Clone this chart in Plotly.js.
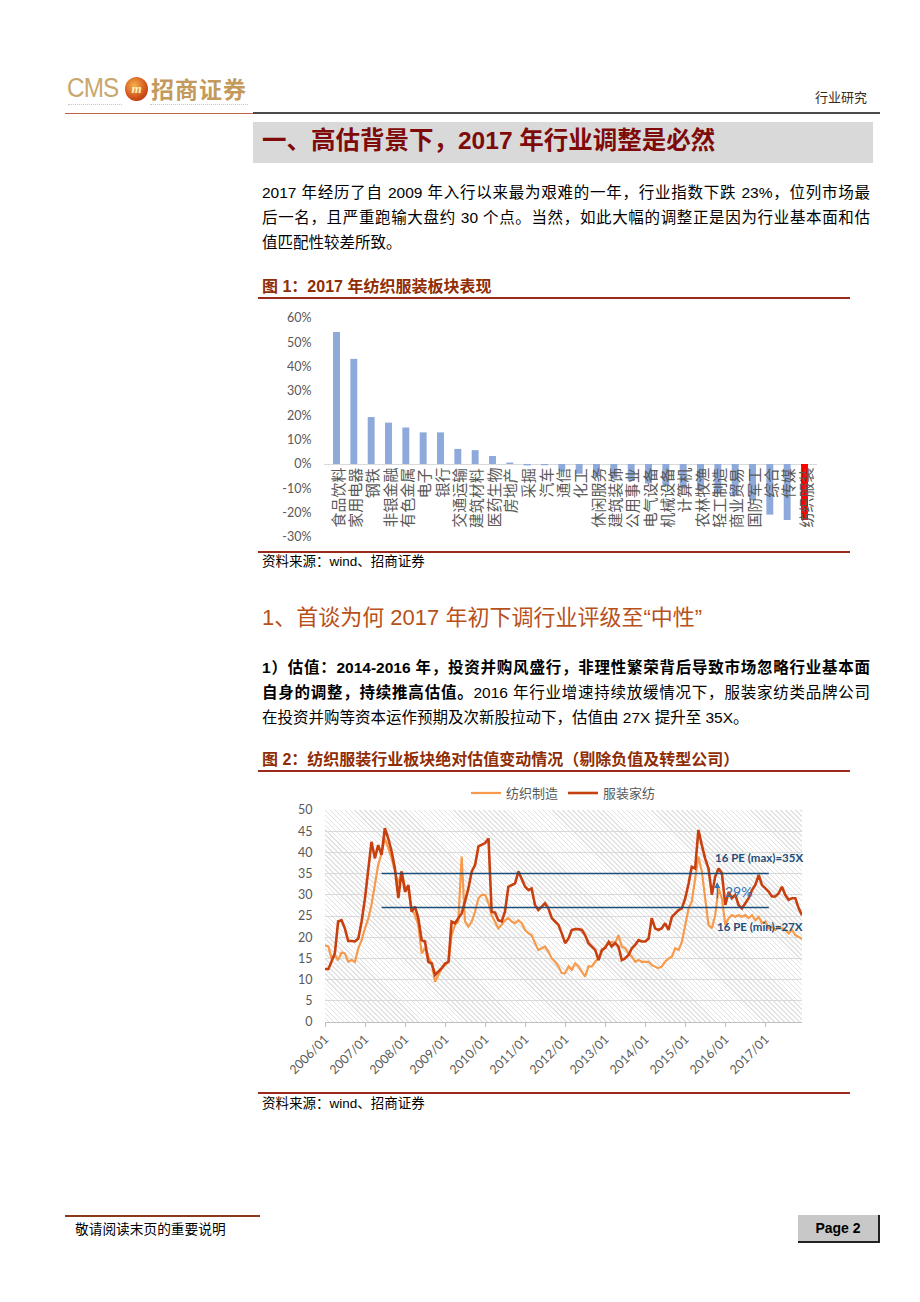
<!DOCTYPE html>
<html><head><meta charset="utf-8">
<script src="https://cdn.plot.ly/plotly-3.0.1.min.js"></script>
<style>
body{margin:0;background:#fff;width:920px;height:1302px;position:relative;overflow:hidden;font-family:"Liberation Sans","Noto Sans CJK SC",sans-serif;color:#000}
.abs{position:absolute;white-space:nowrap}
.jl{position:absolute;left:262px;width:608px;font-size:15.5px;line-height:20px;text-align:justify;text-align-last:justify;white-space:nowrap}
.ll{position:absolute;left:262px;font-size:15.5px;line-height:20px;white-space:nowrap}
.figt{position:absolute;left:262px;font-size:16px;font-weight:bold;color:#8f2d05;line-height:20px;white-space:nowrap}
.rule{position:absolute;left:258px;width:592px;height:2px;background:#9b2a1a}
.src{position:absolute;left:262px;font-size:13.5px;line-height:16px;white-space:nowrap}
</style></head><body>
<!-- header -->
<div class="abs" style="left:67px;top:73px;font-family:'Liberation Sans Narrow','Liberation Sans';font-size:27px;color:#c9a76c;letter-spacing:-1px;line-height:30px;transform:scaleX(0.9);transform-origin:left center">CMS</div>
<div class="abs" style="left:125px;top:77px;width:23px;height:24px;border-radius:50%;background:radial-gradient(circle at 40% 35%,#f6b04a,#d0501a 60%,#9a2a08);color:#fff3c0;font:italic bold 13px 'Liberation Serif';text-align:center;line-height:24px">m</div>
<div class="abs" style="left:151px;top:73px;font-family:'Noto Sans CJK SC';font-weight:bold;font-size:23px;color:#c39a5c;line-height:30px;letter-spacing:1px">招商证券</div>
<div class="abs" style="left:68px;top:104px;width:54px;border-top:1px dotted #d8c39a"></div>
<div class="abs" style="left:150px;top:104px;width:98px;border-top:1px dotted #d8c39a"></div>
<div class="abs" style="left:815px;top:89px;font-family:'Noto Sans CJK SC';font-size:13px;color:#3a2a1a;line-height:16px">行业研究</div>
<div class="abs" style="left:65px;top:113px;width:188px;height:1px;background:#c0614a"></div>
<div class="abs" style="left:253px;top:112px;width:627px;height:2px;background:#4a4a4a"></div>

<!-- section header -->
<div class="abs" style="left:253px;top:122px;width:620px;height:41px;background:#d9d9d9"></div>
<div class="abs" style="left:262px;top:126px;font-size:24.5px;font-weight:bold;color:#7e0a0a;line-height:30px">一、高估背景下，2017 年行业调整是必然</div>

<div class="jl" style="top:183px">2017 年经历了自 2009 年入行以来最为艰难的一年，行业指数下跌 23%，位列市场最</div>
<div class="jl" style="top:208px">后一名，且严重跑输大盘约 30 个点。当然，如此大幅的调整正是因为行业基本面和估</div>
<div class="ll" style="top:233px">值匹配性较差所致。</div>

<div class="figt" style="top:277px">图 1：2017 年纺织服装板块表现</div>
<div class="rule" style="top:297px"></div>
<div id="c1" class="abs" style="left:250px;top:300px;width:600px;height:250px"></div>
<div class="rule" style="top:551px;height:1.5px"></div>
<div class="src" style="top:554px">资料来源：wind、招商证券</div>

<div class="abs" style="left:262px;top:604px;font-size:22px;color:#b8501a;line-height:28px">1、首谈为何 2017 年初下调行业评级至“中性”</div>

<div class="jl" style="top:658px;font-weight:bold">1）估值：2014-2016 年，投资并购风盛行，非理性繁荣背后导致市场忽略行业基本面</div>
<div class="jl" style="top:683px"><b>自身的调整，持续推高估值。</b>2016 年行业增速持续放缓情况下，服装家纺类品牌公司</div>
<div class="ll" style="top:708px">在投资并购等资本运作预期及次新股拉动下，估值由 27X 提升至 35X。</div>

<div class="figt" style="top:750px">图 2：纺织服装行业板块绝对估值变动情况（剔除负值及转型公司）</div>
<div class="rule" style="top:770px"></div>
<div class="abs" style="left:325px;top:810px;width:477px;height:212px;background:repeating-linear-gradient(45deg,#ffffff 0px,#ffffff 2.4px,#e2e2e2 2.4px,#e2e2e2 3.5px)"></div>
<div id="c2" class="abs" style="left:250px;top:775px;width:600px;height:315px"></div>
<div class="rule" style="top:1092px;height:1.5px"></div>
<div class="src" style="top:1096px">资料来源：wind、招商证券</div>

<!-- footer -->
<div class="abs" style="left:65px;top:1215px;width:195px;height:1.5px;background:#8b3a1a"></div>
<div class="abs" style="left:75px;top:1220px;font-family:'Noto Sans CJK SC';font-size:13.7px;line-height:16px">敬请阅读末页的重要说明</div>
<div class="abs" style="left:798px;top:1215px;width:80px;height:26px;background:#c8c8c8;border-right:2px solid #222;border-bottom:2px solid #222;font:bold 14px 'Liberation Sans';text-align:center;line-height:26px">Page 2</div>

<script>
// ---------- Figure 1 data ----------
const sectors = ['食品饮料','家用电器','钢铁','非银金融','有色金属','电子','银行','交通运输','建筑材料','医药生物','房地产','采掘','汽车','通信','化工','休闲服务','建筑装饰','公用事业','电气设备','机械设备','计算机','农林牧渔','轻工制造','商业贸易','国防军工','综合','传媒','纺织服装'];
const sectorReturns = [54.2,43.2,19.3,17.0,15.0,13.0,13.0,6.2,5.7,3.3,0.6,-0.6,-0.5,-3.1,-4.0,-5.0,-6.0,-7.0,-8.0,-9.0,-10.0,-11.0,-12.0,-13.0,-15.0,-20.8,-23.0,-23.0];
const highlightSector = '纺织服装';
const yTicks1 = [-30,-20,-10,0,10,20,30,40,50,60];
const yTickText1 = yTicks1.map(v => v + '%');

// ---------- Figure 2 data ----------
const startMonth = [2006, 1];
const nMonths = 144;
const textileMfg = [
18,17.8,15,15.8,14.6,16.4,16.2,14.2,14.6,14.2,17.4,19.3,
22.1,24.5,27.6,32.3,37,39.8,43.3,41,38.6,35.5,32.7,35.5,
31.9,31.1,26.8,25.2,22.9,16.2,17.4,15.4,13.8,9.5,11.1,12.7,
13.4,14.2,20.5,22.9,23.7,39,23.7,22.5,23.7,26,29.2,30,
30,28,25.2,23.7,22.1,22.9,24,24.5,23.7,23.3,24,23.3,
21.7,20.9,20.5,18.6,17,17.4,17.8,16.6,15,14.2,13.1,11.5,
11.5,13.1,12.3,13.8,13.1,11.9,10.7,13.1,13.1,14.2,15,16.6,
17.8,18.6,18.9,18.6,20.5,17.8,17.4,16.2,15.4,14.2,14.6,14.2,
14.2,14.2,13.4,13.1,12.7,13.1,14.2,15,15.4,17.4,17,18.9,
22.9,26.8,28.4,33.9,39,35.5,29.2,22.9,22.1,25.2,31.5,29.2,
22.9,24.5,25.2,24.8,25.2,24.8,25.2,24.5,25.2,24,24.8,23.3,
23.7,22.1,22.5,21.7,22.5,22.1,21.7,20.9,21.7,20.5,20.1,19.6];
const apparelHome = [
12.5,12.5,14.2,16.2,23.7,24,22.1,19.1,19.1,19,19.7,23.7,
29.2,35.5,42.5,38.6,41.7,39.4,45.7,43.3,40.2,36.2,29.2,35.5,
30.7,32.3,26,27.2,24.5,19.3,19,14.2,13.8,11.1,11.9,12.7,
13.8,14.2,23.7,23.3,24.5,25.6,28.4,31.5,35.5,37,41.4,41.7,
42.2,43.3,26,25.8,24,23.7,26,31.9,32.3,32.7,35.5,33.9,
31.9,31.1,31.5,27.6,26.4,27.2,28,26.8,24.5,23.7,22.9,20.9,
18.6,19.7,21.7,21.9,21.9,21.7,20.5,18.6,17.8,17,14.6,17,
17.5,18.9,17.8,18.6,17.8,14.6,15,15.8,17.4,18.2,19.3,19,
19,19.7,24.5,22.1,21.7,22.1,23.3,21.7,24.8,25.6,26.4,26.8,
29.2,32.7,36.6,36.2,45.3,41.7,38.6,36.2,30,34.3,36.2,35.1,
27.6,30.7,29.2,30,27.6,26.8,28,29.2,31.1,32.3,34.7,32.3,
31.5,30.7,29.6,29.6,30.3,31.9,30,28.8,29.2,29.2,26.8,25.2];
const seriesNames = ['纺织制造','服装家纺'];
const peMax = 35, peMin = 27;
const peLineStart = '2007-06-01', peLineEnd = '2017-02-01';
const peMaxLabel = '16 PE (max)=35X', peMinLabel = '16 PE (min)=27X', peRiseLabel = '29%';

function monthStr(i){
  const y = startMonth[0] + Math.floor((startMonth[1]-1+i)/12);
  const m = (startMonth[1]-1+i)%12 + 1;
  return y + '-' + String(m).padStart(2,'0') + '-01';
}
const months = Array.from({length:nMonths}, (_,i)=>monthStr(i));

const gray = '#595959';
const cjk = "Lato, 'Noto Sans CJK SC', sans-serif";

// ---------- Chart 1 ----------
Plotly.newPlot('c1', [{
  type:'bar', x:sectors, y:sectorReturns,
  marker:{color:sectors.map(s=> s===highlightSector ? '#ff0000' : '#8eaadb')},
  hoverinfo:'none'
}], {
  width:600, height:250,
  margin:{l:74,r:33,t:18,b:13, autoexpand:false},
  paper_bgcolor:'rgba(0,0,0,0)', plot_bgcolor:'rgba(0,0,0,0)',
  bargap:0.6, showlegend:false,
  font:{family:cjk, color:gray},
  xaxis:{type:'category', showticklabels:false, showgrid:false, zeroline:false, showline:false, ticks:''},
  yaxis:{range:[-30,60], tickmode:'array', tickvals:yTicks1, ticktext:yTickText1, showgrid:false,
         zeroline:true, zerolinecolor:'#d9d9d9', zerolinewidth:1,
         ticks:'outside', ticklen:9, tickcolor:'rgba(0,0,0,0)', tickfont:{size:12.5, color:gray, family:cjk}},
  annotations: sectors.map(s=>({x:s, y:0, xref:'x', yref:'y', text:s, showarrow:false,
     textangle:-90, xanchor:'center', yanchor:'top', yshift:-2,
     font:{size:15, color:gray, family:"'Noto Sans CJK SC', sans-serif"}}))
}, {staticPlot:true});

// ---------- Chart 2 ----------
const blue = '#1f4e79';
Plotly.newPlot('c2', [
  {type:'scatter', mode:'lines', name:seriesNames[0], x:months, y:textileMfg,
   line:{color:'#f79a4c', width:2.2}},
  {type:'scatter', mode:'lines', name:seriesNames[1], x:months, y:apparelHome,
   line:{color:'#c8400f', width:2.6}}
], {
  width:600, height:315,
  margin:{l:75,r:48,t:35,b:68, autoexpand:false},
  paper_bgcolor:'rgba(0,0,0,0)', plot_bgcolor:'rgba(0,0,0,0)',
  font:{family:cjk, color:gray},
  showlegend:true,
  legend:{orientation:'h', x:0.5, xanchor:'center', y:1.08, yanchor:'middle',
          font:{size:13, color:gray, family:"'Noto Sans CJK SC', sans-serif"}, bgcolor:'rgba(0,0,0,0)'},
  xaxis:{type:'date', range:[months[0], months[nMonths-1]], tick0:months[0], dtick:'M12',
         tickformat:'%Y/%m', tickangle:-45, showgrid:false, zeroline:false, automargin:false,
         showline:true, linecolor:'#bfbfbf', ticks:'outside', ticklen:4, tickcolor:'#bfbfbf',
         tickfont:{size:12.5, color:gray, family:cjk}},
  yaxis:{range:[0,50], dtick:5, showgrid:true, gridcolor:'#d9d9d9', gridwidth:1, zeroline:false, automargin:false,
         ticks:'outside', ticklen:9, tickcolor:'rgba(0,0,0,0)', tickfont:{size:12.5, color:gray, family:cjk}},
  shapes:[
    {type:'line', xref:'x', yref:'y', x0:peLineStart, x1:peLineEnd, y0:peMax, y1:peMax, line:{color:blue, width:1.5}},
    {type:'line', xref:'x', yref:'y', x0:peLineStart, x1:peLineEnd, y0:peMin, y1:peMin, line:{color:blue, width:1.5}}
  ],
  annotations:[
    {x:'2016-11-01', y:38.7, xref:'x', yref:'y', text:'<b>'+peMaxLabel+'</b>', showarrow:false,
     xanchor:'center', yanchor:'middle', font:{size:11.5, color:blue, family:"Lato, 'Open Sans', sans-serif"}},
    {x:'2016-11-10', y:22.6, xref:'x', yref:'y', text:'<b>'+peMinLabel+'</b>', showarrow:false,
     xanchor:'center', yanchor:'middle', font:{size:11.5, color:blue, family:"Lato, 'Open Sans', sans-serif"}},
    {x:'2016-05-01', y:30.7, xref:'x', yref:'y', text:peRiseLabel, showarrow:false,
     xanchor:'center', yanchor:'middle', font:{size:14, color:'#2e75b6', family:"Lato, sans-serif"}},
    {x:'2015-10-20', y:33, xref:'x', yref:'y', ax:'2015-10-20', ay:28.8, axref:'x', ayref:'y',
     text:'', showarrow:true, arrowhead:2, arrowsize:1, arrowwidth:1.2, arrowcolor:'#2e75b6'}
  ]
}, {staticPlot:true});
</script>
</body></html>
